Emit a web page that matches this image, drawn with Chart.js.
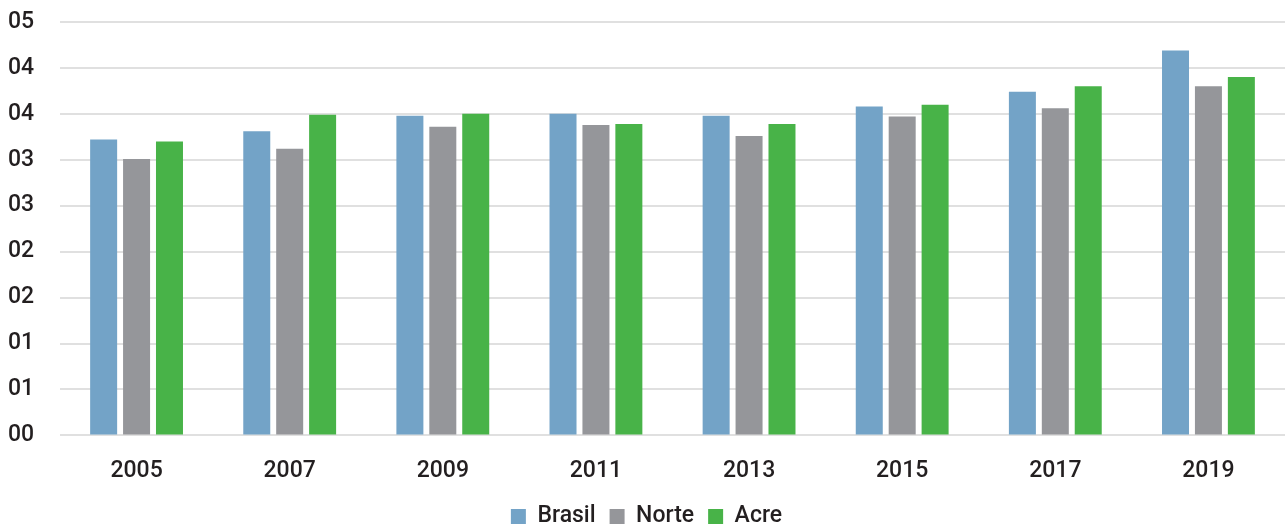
<!DOCTYPE html>
<html>
<head>
<meta charset="utf-8">
<script src="https://cdn.jsdelivr.net/npm/chart.js@4"></script>
<style>
  html, body { margin: 0; padding: 0; background: #fff; }
  #wrap { width: 1285px; height: 524px; }
</style>
</head>
<body>
<div id="wrap"><canvas id="idebChart"></canvas></div>
<script>
const years = ["2005", "2007", "2009", "2011", "2013", "2015", "2017", "2019"];
const brasil = [3.22, 3.31, 3.48, 3.50, 3.48, 3.58, 3.74, 4.19];
const norte = [3.01, 3.12, 3.36, 3.38, 3.26, 3.47, 3.56, 3.80];
const acre = [3.20, 3.49, 3.50, 3.39, 3.39, 3.60, 3.80, 3.90];
// tick labels as printed on the original (0 to 4.5 step 0.5)
const yTickLabels = ["00", "01", "01", "02", "02", "03", "03", "04", "04", "05"];

const fontFamily = "Roboto, 'DejaVu Sans', sans-serif";
const textColor = "#231f20";

new Chart(document.getElementById("idebChart"), {
  type: "bar",
  data: {
    labels: years,
    datasets: [
      { label: "Brasil", data: brasil, backgroundColor: "#73a3c7" },
      { label: "Norte", data: norte, backgroundColor: "#95969a" },
      { label: "Acre", data: acre, backgroundColor: "#48b348" },
    ],
  },
  options: {
    responsive: true,
    maintainAspectRatio: false,
    animation: false,
    layout: {
      padding: { top: 22, right: 0, left: 8, bottom: -14 },
    },
    datasets: {
      bar: {
        categoryPercentage: 0.645,
        barPercentage: 0.82,
        borderWidth: 0,
      },
    },
    plugins: {
      legend: {
        position: "bottom",
        labels: {
          boxWidth: 15,
          boxHeight: 15,
          padding: 14,
          color: textColor,
          font: { family: fontFamily, size: 23, weight: "500" },
        },
      },
      tooltip: { enabled: false },
    },
    scales: {
      x: {
        grid: { display: false, tickLength: 16 },
        border: { display: false },
        ticks: {
          color: textColor,
          padding: 6,
          font: { family: fontFamily, size: 23, weight: "500" },
        },
      },
      y: {
        min: 0,
        max: 4.5,
        border: { display: false },
        grid: { color: "#e0e0e0", lineWidth: 2, drawTicks: false },
        afterFit: (axis) => {
          axis.width = 52;
        },
        ticks: {
          stepSize: 0.5,
          padding: 0,
          crossAlign: "far",
          color: textColor,
          font: { family: fontFamily, size: 23, weight: "500" },
          callback: (value, index) => yTickLabels[index],
        },
      },
    },
  },
});
</script>
</body>
</html>
